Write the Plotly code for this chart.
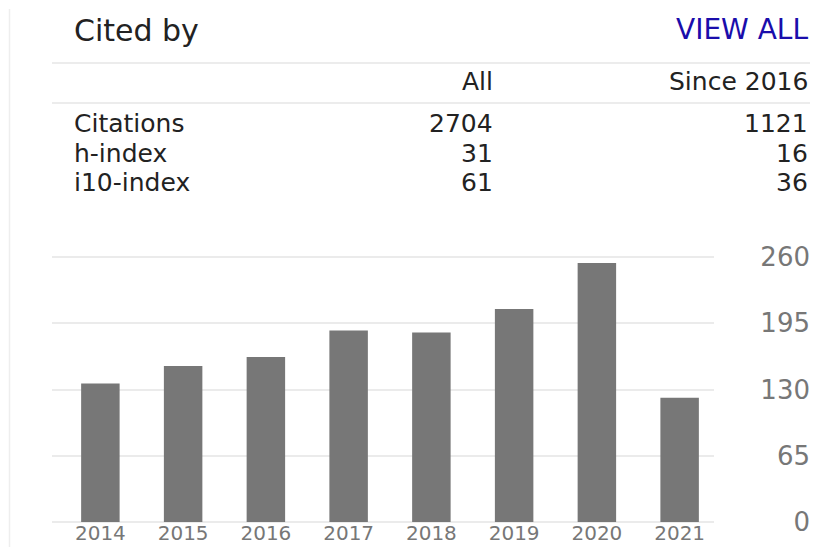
import plotly.graph_objects as go

# ---- data ----
years = ["2014", "2015", "2016", "2017", "2018", "2019", "2020", "2021"]
citations = [136, 153, 162, 188, 186, 209, 254, 122]
y_ticks = [0, 65, 130, 195, 260]

title_text = "Cited by"
link_text = "VIEW ALL"
column_headers = ["All", "Since 2016"]
metric_labels = ["Citations", "h-index", "i10-index"]
all_values = [2704, 31, 61]
since_values = [1121, 16, 36]

# page body has an 8px margin, so the figure is drawn 8px in from the corner
OFF = 8
W, H = 818 - OFF, 547 - OFF
FONT = "DejaVu Sans"
TEXT = "#222222"


def px(x):
    return (x - OFF) / W


def py(y):
    return 1 - (y - OFF) / H


fig = go.Figure()
fig.add_trace(go.Bar(
    x=years, y=citations,
    marker=dict(color="#777777", line=dict(width=0)),
    hoverinfo="x+y",
))

annotations = []


def txt(s, x, y, anchor, size, color=TEXT):
    annotations.append(dict(
        text=s, x=px(x), y=py(y), xref="paper", yref="paper",
        xanchor=anchor, yanchor="middle", showarrow=False,
        font=dict(family=FONT, size=size, color=color),
    ))


txt(title_text, 72, 31, "left", 30)
txt(link_text, 810, 29, "right", 28, "#1a0dab")
txt(column_headers[0], 495, 82, "right", 25)
txt(column_headers[1], 810, 82, "right", 25)
row_y = [124, 153, 182]
for lab, a, s, yy in zip(metric_labels, all_values, since_values, row_y):
    txt(lab, 72, yy, "left", 25)
    txt(str(a), 495, yy, "right", 25)
    txt(str(s), 810, yy, "right", 25)

shapes = [
    dict(type="line", xref="paper", yref="paper", x0=px(52), x1=px(818),
         y0=py(63), y1=py(63), line=dict(color="#e6e6e6", width=1.5)),
    dict(type="line", xref="paper", yref="paper", x0=px(52), x1=px(818),
         y0=py(103), y1=py(103), line=dict(color="#e6e6e6", width=1.5)),
    dict(type="line", xref="paper", yref="paper", x0=px(9.5), x1=px(9.5),
         y0=py(9), y1=py(547), line=dict(color="#eeeeee", width=1.5)),
]

off = 7 / 82.74
# pixels per unit on y: 0 -> 522 px, 260 -> 257 px
ppu = (522 - 257) / 260
pad = 1.5
fig.update_layout(
    width=W, height=H,
    margin=dict(l=0, r=0, t=0, b=0, autoexpand=False),
    paper_bgcolor="white", plot_bgcolor="white",
    showlegend=False,
    bargap=0.535,
    annotations=annotations,
    shapes=shapes,
    xaxis=dict(
        domain=[px(52), px(714)],
        range=[-0.5 - off, 7.5 - off],
        type="category",
        automargin=False,
        showgrid=False, zeroline=False, showline=False,
        ticks="", ticklabelstandoff=-5,
        tickfont=dict(family=FONT, size=20, color="#777777"),
    ),
    yaxis=dict(
        domain=[py(522 + pad * ppu), py(257 - pad * ppu)],
        range=[-pad, 260 + pad],
        tickvals=y_ticks,
        ticktext=[str(v) for v in y_ticks],
        anchor="free", position=px(810), side="left",
        automargin=False,
        showgrid=True, gridcolor="#ebebeb", gridwidth=1.5,
        zeroline=False, showline=False, ticks="",
        tickfont=dict(family=FONT, size=26, color="#777777"),
    ),
)

fig.write_html("out.html")
